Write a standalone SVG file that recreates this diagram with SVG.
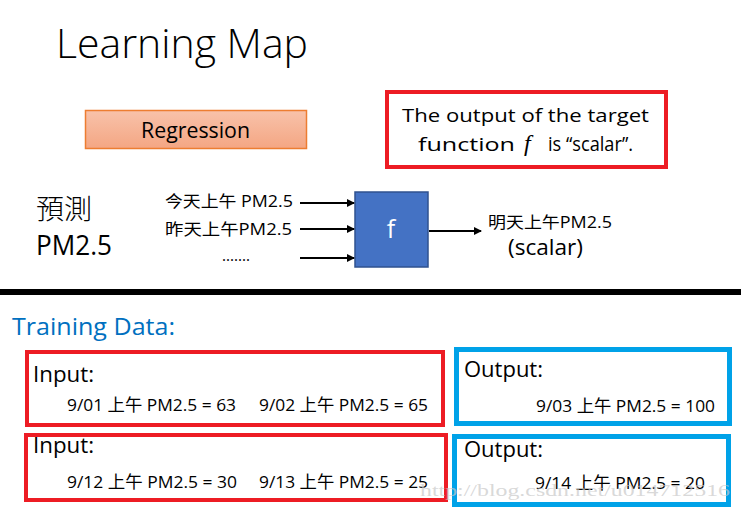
<svg xmlns="http://www.w3.org/2000/svg" width="741" height="511" viewBox="0 0 741 511">
<defs>
<linearGradient id="regGrad" x1="0" y1="0" x2="0" y2="1">
<stop offset="0" stop-color="#F8C2AA"/>
<stop offset="1" stop-color="#F4A683"/>
</linearGradient>
<marker id="arr" viewBox="0 0 8 8" refX="7" refY="4" markerWidth="4" markerHeight="4" orient="auto" markerUnits="strokeWidth">
<path d="M0,0 L8,4 L0,8 z" fill="#000"/>
</marker>
</defs>
<style>
text { font-family: "Open Sans", "Noto Sans CJK TC", sans-serif; fill: #000; }
.red { fill: none; stroke: #ED1C24; stroke-width: 4; }
.blue { fill: none; stroke: #00A2E8; stroke-width: 5; }
.conn { stroke: #000; stroke-width: 2; fill: none; marker-end: url(#arr); }
.lbl { font-size: 22px; }
.data { font-size: 17px; }
</style>
<rect width="741" height="511" fill="#fff"/>

<g id="title">
<text x="56" y="58" font-size="40" font-weight="300" textLength="252" lengthAdjust="spacingAndGlyphs">Learning Map</text>
</g>

<g id="regression">
<rect x="85.5" y="110.5" width="221" height="38" fill="url(#regGrad)" stroke="#ED7D31" stroke-width="1.5"/>
<text x="141" y="138" font-size="21" textLength="109" lengthAdjust="spacingAndGlyphs">Regression</text>
</g>

<g id="note">
<rect class="red" x="387" y="92" width="279" height="75"/>
<text x="402" y="122" font-size="19" textLength="247" lengthAdjust="spacingAndGlyphs">The output of the target</text>
<text x="418" y="151" font-size="19" textLength="97" lengthAdjust="spacingAndGlyphs">function</text>
<text x="524" y="151" font-size="24" font-style="italic" style="font-family:'Liberation Serif', serif">f</text>
<text x="548" y="151" font-size="20" textLength="85" lengthAdjust="spacingAndGlyphs">is “scalar”.</text>
</g>

<g id="predict">
<text x="36" y="219" font-size="27" font-weight="300" textLength="56" lengthAdjust="spacingAndGlyphs" style="font-family:'Noto Sans CJK TC', sans-serif; font-weight:300">預測</text>
<text x="36" y="255" font-size="27" textLength="76" lengthAdjust="spacingAndGlyphs">PM2.5</text>
</g>

<g id="inputs">
<text x="165" y="207" font-size="16" textLength="128" lengthAdjust="spacingAndGlyphs">今天上午 PM2.5</text>
<text x="165" y="235" font-size="16" textLength="127" lengthAdjust="spacingAndGlyphs">昨天上午PM2.5</text>
<text x="222" y="261" font-size="16" textLength="28" lengthAdjust="spacingAndGlyphs">.......</text>
</g>

<g id="f-box">
<rect x="355" y="192" width="73" height="75" fill="#4472C4" stroke="#2F528F" stroke-width="1.5"/>
<text x="391" y="238" font-size="25" text-anchor="middle" style="fill:#fff">f</text>
</g>

<g id="output">
<text x="488" y="228" font-size="16" textLength="124" lengthAdjust="spacingAndGlyphs">明天上午PM2.5</text>
<text x="508" y="255" font-size="22" textLength="75" lengthAdjust="spacingAndGlyphs">(scalar)</text>
</g>

<g id="connectors">
<line class="conn" x1="300" y1="203" x2="354" y2="203"/>
<line class="conn" x1="300" y1="229" x2="354" y2="229"/>
<line class="conn" x1="300" y1="258" x2="354" y2="258"/>
<line class="conn" x1="429" y1="231" x2="481" y2="231"/>
</g>

<g id="divider">
<rect x="0" y="289" width="741" height="6" fill="#000"/>
</g>

<g id="training-title">
<text x="12" y="335" font-size="24" textLength="163" lengthAdjust="spacingAndGlyphs" style="fill:#0070C0">Training Data:</text>
</g>

<g id="input1">
<rect class="red" x="27" y="352" width="416" height="73"/>
<text class="lbl" x="33" y="382" textLength="61" lengthAdjust="spacingAndGlyphs">Input:</text>
<text class="data" x="67" y="411" textLength="169" lengthAdjust="spacingAndGlyphs">9/01 上午 PM2.5 = 63</text>
<text class="data" x="259" y="411" textLength="169" lengthAdjust="spacingAndGlyphs">9/02 上午 PM2.5 = 65</text>
</g>

<g id="output1">
<rect class="blue" x="456.5" y="349.5" width="273" height="74"/>
<text class="lbl" x="464" y="377" textLength="79" lengthAdjust="spacingAndGlyphs">Output:</text>
<text class="data" x="536" y="412" textLength="179" lengthAdjust="spacingAndGlyphs">9/03 上午 PM2.5 = 100</text>
</g>

<g id="input2">
<rect class="red" x="26" y="435" width="420" height="65"/>
<text class="lbl" x="33" y="453" textLength="61" lengthAdjust="spacingAndGlyphs">Input:</text>
<text class="data" x="67" y="488" textLength="170" lengthAdjust="spacingAndGlyphs">9/12 上午 PM2.5 = 30</text>
<text class="data" x="259" y="488" textLength="169" lengthAdjust="spacingAndGlyphs">9/13 上午 PM2.5 = 25</text>
</g>

<g id="output2">
<rect class="blue" x="454.5" y="436.5" width="274" height="68"/>
<text class="lbl" x="464" y="457" textLength="79" lengthAdjust="spacingAndGlyphs">Output:</text>
<text class="data" x="535" y="489" textLength="170" lengthAdjust="spacingAndGlyphs">9/14 上午 PM2.5 = 20</text>
</g>

<g id="watermark">
<text x="420" y="496" font-size="17" textLength="310" lengthAdjust="spacingAndGlyphs" style="font-family:'Liberation Serif', serif; fill:#c8c8c8; fill-opacity:0.7">http://blog.csdn.net/u014712516</text>
</g>
</svg>
